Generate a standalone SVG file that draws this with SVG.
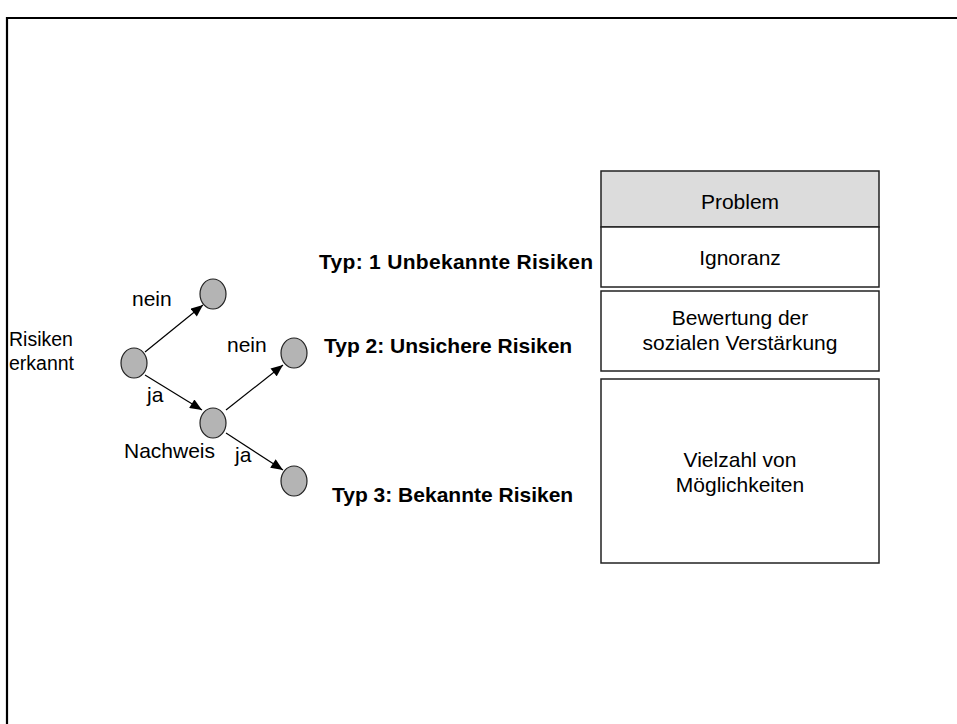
<svg xmlns="http://www.w3.org/2000/svg" width="957" height="724" viewBox="0 0 957 724">
<defs>
<style>
.t{font-family:"Liberation Sans",Arial,sans-serif;font-size:21px;fill:#000}
.s{font-size:19.5px}
.b{font-family:"Liberation Sans",Arial,sans-serif;font-size:21px;font-weight:bold;fill:#000}
.c{text-anchor:middle}
.n{fill:#b4b4b4;stroke:#222;stroke-width:1.2}
.box{fill:#fff;stroke:#222;stroke-width:1.5}
.e{stroke:#000;stroke-width:1.2;fill:none;marker-end:url(#ah)}
</style>
<marker id="ah" viewBox="0 0 12 10" refX="12" refY="5" markerWidth="13" markerHeight="10" markerUnits="userSpaceOnUse" orient="auto">
<path d="M0,0 L12,5 L0,10 Z" fill="#000"/>
</marker>
</defs>
<rect width="957" height="724" fill="#fff"/>
<path d="M7,730 V18 H962" fill="none" stroke="#000" stroke-width="2.2"/>
<g id="edges">
<line class="e" x1="145" y1="352" x2="203" y2="305"/>
<line class="e" x1="145" y1="375" x2="202" y2="410"/>
<line class="e" x1="226" y1="410" x2="283" y2="365"/>
<line class="e" x1="226" y1="433" x2="283" y2="470"/>
</g>
<g id="n-root"><ellipse class="n" cx="134" cy="363" rx="13" ry="15"/>
<text class="t s" x="9" y="346">Risiken</text><text class="t s" x="9" y="370">erkannt</text></g>
<g id="n-nein1"><ellipse class="n" cx="213" cy="294" rx="13" ry="15"/></g>
<g id="n-nachweis"><ellipse class="n" cx="213" cy="423" rx="13" ry="15"/>
<text class="t" x="124" y="458">Nachweis</text></g>
<g id="n-typ2"><ellipse class="n" cx="294" cy="353" rx="13" ry="15"/></g>
<g id="n-typ3"><ellipse class="n" cx="294" cy="481" rx="13" ry="15"/></g>
<g id="labels">
<text class="t" x="132" y="306">nein</text>
<text class="t" x="147" y="402">ja</text>
<text class="t" x="227" y="352">nein</text>
<text class="t" x="235" y="462">ja</text>
<text class="b" x="319" y="269" textLength="274">Typ: 1 Unbekannte Risiken</text>
<text class="b" x="324" y="353">Typ 2: Unsichere Risiken</text>
<text class="b" x="332" y="502">Typ 3: Bekannte Risiken</text>
</g>
<g id="box-problem"><rect x="601" y="171" width="278" height="56" fill="#dcdcdc" stroke="#222" stroke-width="1.5"/>
<text class="t c" x="740" y="209">Problem</text></g>
<g id="box-ignoranz"><rect class="box" x="601" y="227" width="278" height="60"/>
<text class="t c" x="740" y="265">Ignoranz</text></g>
<g id="box-bewertung"><rect class="box" x="601" y="291" width="278" height="80"/>
<text class="t c" x="740" y="325">Bewertung der</text><text class="t c" x="740" y="350">sozialen Verstärkung</text></g>
<g id="box-vielzahl"><rect class="box" x="601" y="379" width="278" height="184"/>
<text class="t c" x="740" y="467">Vielzahl von</text><text class="t c" x="740" y="492">Möglichkeiten</text></g>
</svg>
